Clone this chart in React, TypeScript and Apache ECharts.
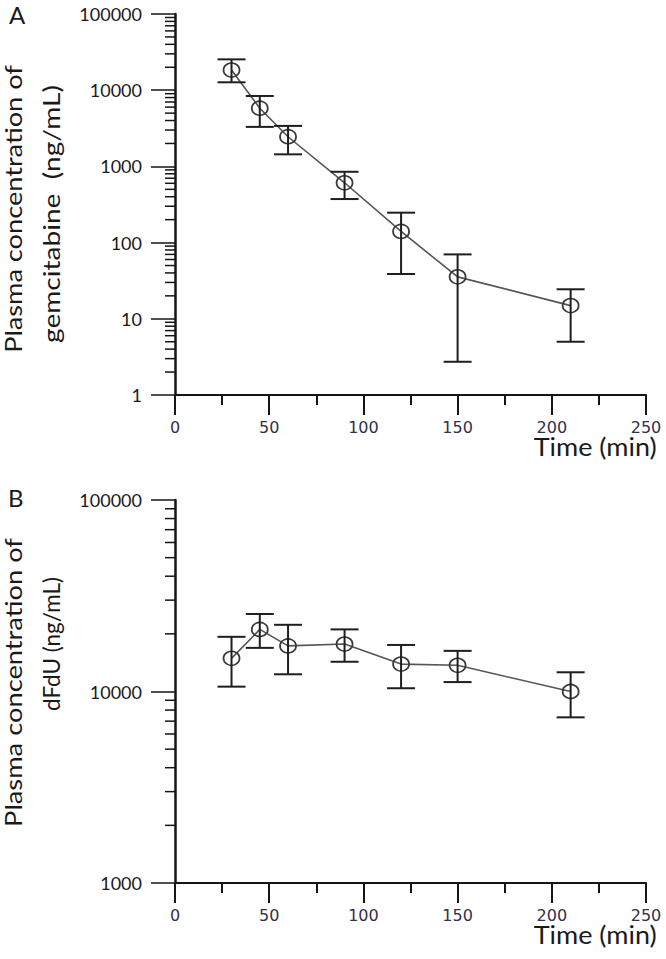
import React, { useEffect, useRef } from "react";
import * as echarts from "echarts";

// ---- data ----
const timeMin = [30, 45, 60, 90, 120, 150, 210];

const gemMean = [18400, 5800, 2450, 610, 140, 35.5, 14.9];
const gemUpper = [25400, 8400, 3400, 850, 247, 70, 24.4];
const gemLower = [12700, 3300, 1440, 373, 38.7, 2.73, 5.0];

const dfduMean = [14900, 21100, 17300, 17700, 13900, 13700, 10000];
const dfduUpper = [19300, 25400, 22300, 21100, 17500, 16300, 12600];
const dfduLower = [10600, 16900, 12300, 14300, 10400, 11200, 7330];

const xTicks = [0, 50, 100, 150, 200, 250];
const yRangeA = [1, 100000];
const yRangeB = [1000, 100000];
const minorMults = [2, 3, 4, 5, 6, 7, 8, 9];

const panelLabels = ["A", "B"];
const yTitlesA = ["Plasma concentration of", "gemcitabine\u00a0 (ng/mL)"];
const yTitlesB = ["Plasma concentration of", "dFdU (ng/mL)"];
const xTitle = "Time (min)";

const TEXT = "#1a1a1a";
const AXIS = "#151515";
const TICKLABEL_X = "#34304a";

function minorTickData(range: number[]) {
  const out: number[][] = [];
  const e0 = Math.round(Math.log10(range[0]));
  const e1 = Math.round(Math.log10(range[1]));
  for (let e = e0; e < e1; e++) {
    for (const m of minorMults) out.push([0, m * Math.pow(10, e)]);
  }
  return out;
}

function measure(text: string, font: string) {
  const c = document.createElement("canvas");
  const ctx = c.getContext("2d");
  if (!ctx) return 100;
  ctx.font = font;
  return ctx.measureText(text).width;
}

function fittedText(
  text: string,
  cx: number,
  cy: number,
  size: number,
  target: number,
  rotated: boolean
) {
  const w = measure(text, `normal ${size}px Lato`);
  const s = target / w;
  return {
    type: "text",
    x: cx,
    y: cy,
    rotation: rotated ? Math.PI / 2 : 0,
    scaleX: s,
    scaleY: 1,
    silent: true,
    style: {
      text,
      fontSize: size,
      fontFamily: "Lato",
      fontWeight: "normal",
      fill: TEXT,
      align: "center",
      verticalAlign: "middle",
      textAlign: "center",
      textVerticalAlign: "middle",
    },
  };
}

function xAxisCfg(gridIndex: number) {
  return {
    type: "value",
    gridIndex,
    min: xTicks[0],
    max: xTicks[xTicks.length - 1],
    interval: xTicks[1] - xTicks[0],
    axisLine: { show: true, onZero: false, lineStyle: { color: AXIS, width: 2 } },
    axisTick: { show: true, length: 20, lineStyle: { color: AXIS, width: 2 } },
    minorTick: { show: true, splitNumber: 2, length: 10, lineStyle: { color: AXIS, width: 2 } },
    splitLine: { show: false },
    minorSplitLine: { show: false },
    axisLabel: {
      margin: 24,
      fontFamily: "DejaVu Sans",
      fontSize: 16,
      lineHeight: 16,
      color: TICKLABEL_X,
    },
  };
}

function yAxisCfg(gridIndex: number, range: number[]) {
  return {
    type: "log",
    logBase: 10,
    gridIndex,
    min: range[0],
    max: range[1],
    axisLine: { show: true, onZero: false, lineStyle: { color: AXIS, width: 2.5 } },
    axisTick: { show: true, length: 24, lineStyle: { color: AXIS, width: 1.5 } },
    splitLine: { show: false },
    axisLabel: {
      margin: 33,
      fontFamily: "Lato",
      fontSize: 18,
      color: TEXT,
      formatter: (v: number) => String(Math.round(v)),
    },
  };
}

function lineSeries(idx: number, mean: number[]) {
  return {
    type: "line",
    xAxisIndex: idx,
    yAxisIndex: idx,
    data: timeMin.map((t, i) => [t, mean[i]]),
    lineStyle: { color: "#555555", width: 1.6 },
    symbol: "circle",
    symbolSize: [16, 14],
    itemStyle: { color: "rgba(0,0,0,0)", borderColor: "#3a3a3a", borderWidth: 1.7 },
    z: 3,
  };
}

function errorSeries(idx: number, lower: number[], upper: number[]) {
  return {
    type: "custom",
    xAxisIndex: idx,
    yAxisIndex: idx,
    encode: { x: 0, y: [1, 2] },
    data: timeMin.map((t, i) => [t, lower[i], upper[i]]),
    renderItem: (params: any, api: any) => {
      const x = api.value(0);
      const lo = api.coord([x, api.value(1)]);
      const hi = api.coord([x, api.value(2)]);
      const half = 14;
      const st = { stroke: "#1e1e1e", lineWidth: 2 };
      return {
        type: "group",
        children: [
          { type: "line", shape: { x1: lo[0], y1: lo[1], x2: hi[0], y2: hi[1] }, style: st },
          { type: "line", shape: { x1: hi[0] - half, y1: hi[1], x2: hi[0] + half, y2: hi[1] }, style: st },
          { type: "line", shape: { x1: lo[0] - half, y1: lo[1], x2: lo[0] + half, y2: lo[1] }, style: st },
        ],
      };
    },
    z: 4,
  };
}

function minorTickSeries(idx: number, range: number[]) {
  return {
    type: "custom",
    xAxisIndex: idx,
    yAxisIndex: idx,
    clip: false,
    silent: true,
    encode: { x: 0, y: 1 },
    data: minorTickData(range),
    renderItem: (params: any, api: any) => {
      const p = api.coord([api.value(0), api.value(1)]);
      return {
        type: "line",
        shape: { x1: p[0] - 10, y1: p[1], x2: p[0], y2: p[1] },
        style: { stroke: AXIS, lineWidth: 1.5 },
      };
    },
    z: 5,
  };
}

function panelLetter(text: string, x: number, y: number, size: number) {
  return {
    type: "text",
    x,
    y,
    silent: true,
    style: {
      text,
      fontSize: size,
      fontFamily: "Lato",
      fontWeight: "normal",
      fill: TEXT,
      align: "left",
      verticalAlign: "middle",
      textAlign: "left",
      textVerticalAlign: "middle",
    },
  };
}

export default function App() {
  const ref = useRef<HTMLDivElement>(null);

  useEffect(() => {
    document.body.style.margin = "0";
    if (!ref.current) return;
    const chart = echarts.init(ref.current, undefined, { renderer: "svg" });

    const graphics = [
      panelLetter(panelLabels[0], 9, 14, 24),
      panelLetter(panelLabels[1], 8, 497, 24),
      fittedText(yTitlesA[0], 13, 209, 24, 288, true),
      fittedText(yTitlesA[1], 50.5, 214, 24, 258, true),
      fittedText(yTitlesB[0], 13, 682.5, 24, 289, true),
      fittedText(yTitlesB[1], 51, 644, 23, 134, true),
      fittedText(xTitle, 595.2, 446.5, 25, 123, false),
      fittedText(xTitle, 595.2, 934.5, 25, 123, false),
    ];

    chart.setOption({
      animation: false,
      backgroundColor: "#ffffff",
      grid: [
        { left: 175, top: 14, width: 471, height: 381 },
        { left: 175, top: 500, width: 471, height: 383 },
      ],
      xAxis: [xAxisCfg(0), xAxisCfg(1)],
      yAxis: [yAxisCfg(0, yRangeA), yAxisCfg(1, yRangeB)],
      series: [
        lineSeries(0, gemMean),
        errorSeries(0, gemLower, gemUpper),
        minorTickSeries(0, yRangeA),
        lineSeries(1, dfduMean),
        errorSeries(1, dfduLower, dfduUpper),
        minorTickSeries(1, yRangeB),
      ],
      graphic: graphics,
    });

    return () => {
      chart.dispose();
    };
  }, []);

  return <div ref={ref} style={{ width: 666, height: 959 }} />;
}
